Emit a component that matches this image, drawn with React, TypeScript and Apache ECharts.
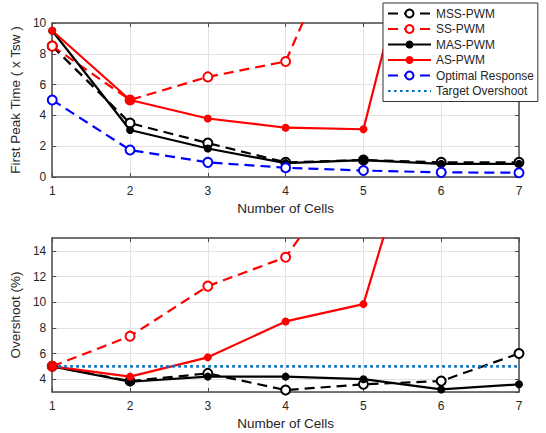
import React, { useEffect, useRef } from "react";
import * as echarts from "echarts";

const cells = [1, 2, 3, 4, 5, 6, 7];

// First peak time (x Tsw)
const mssPeak = [8.5, 3.5, 2.2, 0.95, 1.1, 0.95, 0.95];
const ssPeak = [8.5, 5.0, 6.5, 7.5, 19];
const masPeak = [9.5, 3.05, 1.85, 0.9, 1.1, 0.85, 0.85];
const asPeak = [9.5, 5.0, 3.8, 3.2, 3.1, 23];
const optPeak = [5.0, 1.75, 0.95, 0.6, 0.42, 0.3, 0.28];

// Overshoot (%)
const mssOver = [5.0, 3.85, 4.45, 3.15, 3.6, 3.85, 6.0];
const ssOver = [5.0, 7.35, 11.25, 13.5, 22];
const masOver = [5.0, 3.8, 4.2, 4.2, 4.0, 3.2, 3.6];
const asOver = [5.0, 4.2, 5.7, 8.5, 9.85, 30];
const targetOver = [5, 5, 5, 5, 5, 5, 5];

const peakTicks = [0, 2, 4, 6, 8, 10];
const overTicks = [4, 6, 8, 10, 12, 14];

const legendNames = ["MSS-PWM", "SS-PWM", "MAS-PWM", "AS-PWM", "Optimal Response", "Target Overshoot"];

const FONT = "Liberation Sans, Arial, Helvetica, sans-serif";
const TXT = "#262626";
const FRAME = "#4a4a4a";
const GRIDC = "#e3e3e3";

const pairs = (vals: number[]) => vals.map((v, i) => [cells[i], v]);

export default function App() {
  const ref = useRef<HTMLDivElement>(null);
  useEffect(() => {
    if (!ref.current) return;
    const chart = echarts.init(ref.current, null, { renderer: "svg" });

    const xMain = (gi: number) => ({
      type: "value",
      gridIndex: gi,
      min: 1,
      max: 7,
      interval: 1,
      position: "bottom",
      name: "Number of Cells",
      nameLocation: "middle",
      nameGap: 24,
      nameTextStyle: { fontFamily: FONT, fontSize: 13.5, color: TXT },
      axisLine: { show: true, onZero: false, lineStyle: { color: FRAME, width: 1.5 } },
      axisTick: { show: true, inside: true, length: 4, lineStyle: { color: FRAME } },
      axisLabel: { fontFamily: FONT, fontSize: 12, color: TXT, margin: 8 },
      splitLine: { show: true, lineStyle: { color: GRIDC, width: 1 } },
    });
    const xTop = (gi: number) => ({
      type: "value",
      gridIndex: gi,
      min: 1,
      max: 7,
      interval: 1,
      position: "top",
      axisLine: { show: true, onZero: false, lineStyle: { color: FRAME, width: 1.5 } },
      axisTick: { show: true, inside: true, length: 4, lineStyle: { color: FRAME } },
      axisLabel: { show: false },
      splitLine: { show: false },
    });
    const yCommon = (gi: number, pos: string, main: boolean, extra: any) => ({
      type: "value",
      gridIndex: gi,
      position: pos,
      axisLine: { show: true, onZero: false, lineStyle: { color: FRAME, width: 1.5 } },
      axisTick: { show: true, inside: true, length: 4, lineStyle: { color: FRAME } },
      axisLabel: main
        ? { fontFamily: FONT, fontSize: 12, color: TXT, margin: 6, showMinLabel: extra.showMin, showMaxLabel: extra.showMax, formatter: extra.fmt }
        : { show: false },
      splitLine: { show: main, lineStyle: { color: GRIDC, width: 1 } },
      ...extra.axis,
    });

    const peakFmt = (v: number) => (peakTicks.includes(v) ? String(v) : "");
    const overFmt = (v: number) => (overTicks.includes(v) ? String(v) : "");

    const lw = 2.2;
    const dash = [10, 6];
    const mk = (
      name: string,
      data: number[],
      gi: number,
      color: string,
      dashed: boolean,
      filled: boolean
    ) => ({
      type: "line",
      name,
      xAxisIndex: gi * 2,
      yAxisIndex: gi * 2,
      data: pairs(data),
      clip: true,
      symbol: filled ? "circle" : "emptyCircle",
      symbolSize: filled ? 8 : 9,
      showAllSymbol: true,
      lineStyle: { color, width: lw, type: dashed ? dash : "solid" },
      itemStyle: { color, borderColor: color, borderWidth: filled ? 0 : 2 },
      emphasis: { disabled: true },
      z: 2,
    });

    const option: any = {
      animation: false,
      backgroundColor: "#ffffff",
      textStyle: { fontFamily: FONT },
      grid: [
        { left: 49, top: 23, width: 470, height: 154, show: false },
        { left: 49, top: 238, width: 470, height: 154, show: false },
      ],
      xAxis: [xMain(0), xTop(0), xMain(1), xTop(1)],
      yAxis: [
        yCommon(0, "left", true, {
          showMin: true,
          showMax: true,
          fmt: peakFmt,
          axis: {
            min: 0,
            max: 10,
            interval: 2,
            name: "First Peak Time ( x Tsw )",
            nameLocation: "middle",
            nameGap: 18,
            nameTextStyle: { fontFamily: FONT, fontSize: 13.5, color: TXT },
          },
        }),
        yCommon(0, "right", false, { axis: { min: 0, max: 10, interval: 2 } }),
        yCommon(1, "left", true, {
          showMin: false,
          showMax: false,
          fmt: overFmt,
          axis: {
            min: 3,
            max: 15,
            splitNumber: 6,
            name: "Overshoot (%)",
            nameLocation: "middle",
            nameGap: 18,
            nameTextStyle: { fontFamily: FONT, fontSize: 13.5, color: TXT },
          },
        }),
        yCommon(1, "right", false, { axis: { min: 3, max: 15, splitNumber: 6 } }),
      ],
      legend: {
        data: legendNames.map((n) =>
          n === "Target Overshoot" ? { name: n, itemStyle: { opacity: 0 } } : { name: n }
        ),
        orient: "vertical",
        left: 383,
        top: 3,
        padding: [4, 4, 4, 4],
        itemWidth: 43,
        itemHeight: 10,
        itemGap: 2.5,
        backgroundColor: "#ffffff",
        borderColor: "#333333",
        borderWidth: 1,
        borderRadius: 0,
        textStyle: { fontFamily: FONT, fontSize: 11.9, color: TXT, lineHeight: 13 },
        selectedMode: false,
        z: 10,
      },
      series: [
        mk("MSS-PWM", mssPeak, 0, "#000000", true, false),
        mk("SS-PWM", ssPeak, 0, "#ff0000", true, false),
        mk("MAS-PWM", masPeak, 0, "#000000", false, true),
        mk("AS-PWM", asPeak, 0, "#ff0000", false, true),
        mk("Optimal Response", optPeak, 0, "#0000ff", true, false),
        mk("MSS-PWM", mssOver, 1, "#000000", true, false),
        mk("SS-PWM", ssOver, 1, "#ff0000", true, false),
        mk("MAS-PWM", masOver, 1, "#000000", false, true),
        mk("AS-PWM", asOver, 1, "#ff0000", false, true),
        {
          type: "line",
          name: "Target Overshoot",
          xAxisIndex: 2,
          yAxisIndex: 2,
          data: pairs(targetOver),
          symbol: "none",
          lineStyle: { color: "#0072bd", width: 2.6, type: [2.6, 3.4] },
          itemStyle: { color: "#0072bd" },
          emphasis: { disabled: true },
          z: 2,
        },
      ],
    };
    chart.setOption(option);
    return () => chart.dispose();
  }, []);
  return (
    <div
      ref={ref}
      style={{ position: "absolute", left: 0, top: 0, width: 546, height: 433, background: "#fff" }}
    />
  );
}
